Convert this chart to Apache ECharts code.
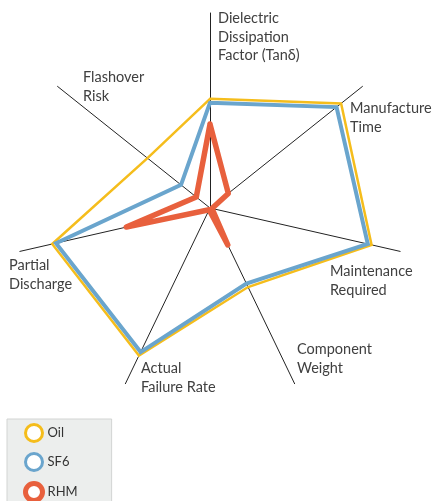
<!DOCTYPE html>
<html>
<head>
<meta charset="UTF-8">
<title>Radar</title>
<script src="https://cdn.jsdelivr.net/npm/echarts@6/dist/echarts.min.js"></script>
<style>
    html, body {margin: 0; padding: 0; background: #fff;}
</style>
</head>
<body>
<div id="chart" style="width: 432px;height: 501px;"></div>
<script type="text/javascript">
    // axes, counter-clockwise from the top (echarts radar order)
    var axes = ['Dielectric Dissipation Factor (Tanδ)', 'Flashover Risk', 'Partial Discharge',
        'Actual Failure Rate', 'Component Weight', 'Maintenance Required', 'Manufacture Time'];
    var seriesNames = ['Oil', 'SF6', 'RHM'];
    var oilValues = [56, 41, 83, 84, 45, 85, 86];
    var sf6Values = [54, 19, 81, 82, 43, 83, 83];
    var rhmValues = [43, 9, 44, 1, 21, 1, 12];
    // axis names as they are broken over lines
    var axisLabels = ['Dielectric\nDissipation\nFactor (Tanδ)', 'Flashover\nRisk', 'Partial\nDischarge',
        'Actual\nFailure Rate', 'Component\nWeight', 'Maintenance\nRequired', 'Manufacture\nTime'];

    var colors = ['#f5bd1c', '#6aa5cd', '#e8603d'];
    var widths = [2.5, 4, 5.5];
    var labelPos = [[218, 9], [83, 68], [9, 256], [141, 359], [297, 340], [330, 262], [350, 99]];

    var chart = echarts.init(document.getElementById('chart'));

    var indicator = [];
    for (var i = 0; i < axes.length; i++) {
        indicator.push({name: axes[i], max: 100, min: 0});
    }

    var values = [oilValues, sf6Values, rhmValues];
    var seriesData = [];
    var legendData = [];
    for (var k = 0; k < seriesNames.length; k++) {
        seriesData.push({
            name: seriesNames[k],
            value: values[k],
            symbol: 'none',
            lineStyle: {color: colors[k], width: widths[k], join: k == 2 ? 'round' : 'miter', cap: 'round'},
            itemStyle: {color: colors[k]}
        });
        legendData.push({
            name: seriesNames[k],
            icon: 'circle',
            itemStyle: {color: '#fff', borderColor: colors[k], borderWidth: k == 2 ? 5 : 3}
        });
    }

    var graphics = [];
    for (var j = 0; j < axisLabels.length; j++) {
        graphics.push({
            type: 'text',
            left: labelPos[j][0],
            top: labelPos[j][1],
            style: {
                text: axisLabels[j],
                font: '14.5px Lato',
                lineHeight: 18.7,
                fill: '#404040'
            }
        });
    }

    var option = {
        animation: false,
        legend: {
            orient: 'vertical',
            left: 7,
            top: 419,
            height: 110,
            data: legendData,
            itemWidth: 17,
            itemHeight: 17,
            itemGap: 9,
            padding: [4, 34, 20, 16],
            backgroundColor: '#eceeed',
            borderColor: '#d2d4d3',
            borderWidth: 1,
            selectedMode: false,
            textStyle: {fontFamily: 'Lato', fontSize: 13, color: '#333'}
        },
        radar: {
            center: [210, 208],
            radius: 195,
            startAngle: 90,
            indicator: indicator,
            axisName: {show: false},
            splitLine: {show: false},
            splitArea: {show: false},
            axisLine: {lineStyle: {color: '#222', width: 1}}
        },
        graphic: graphics,
        series: [{
            type: 'radar',
            silent: true,
            emphasis: {disabled: true},
            data: seriesData
        }]
    };
    chart.setOption(option);
</script>
</body>
</html>
